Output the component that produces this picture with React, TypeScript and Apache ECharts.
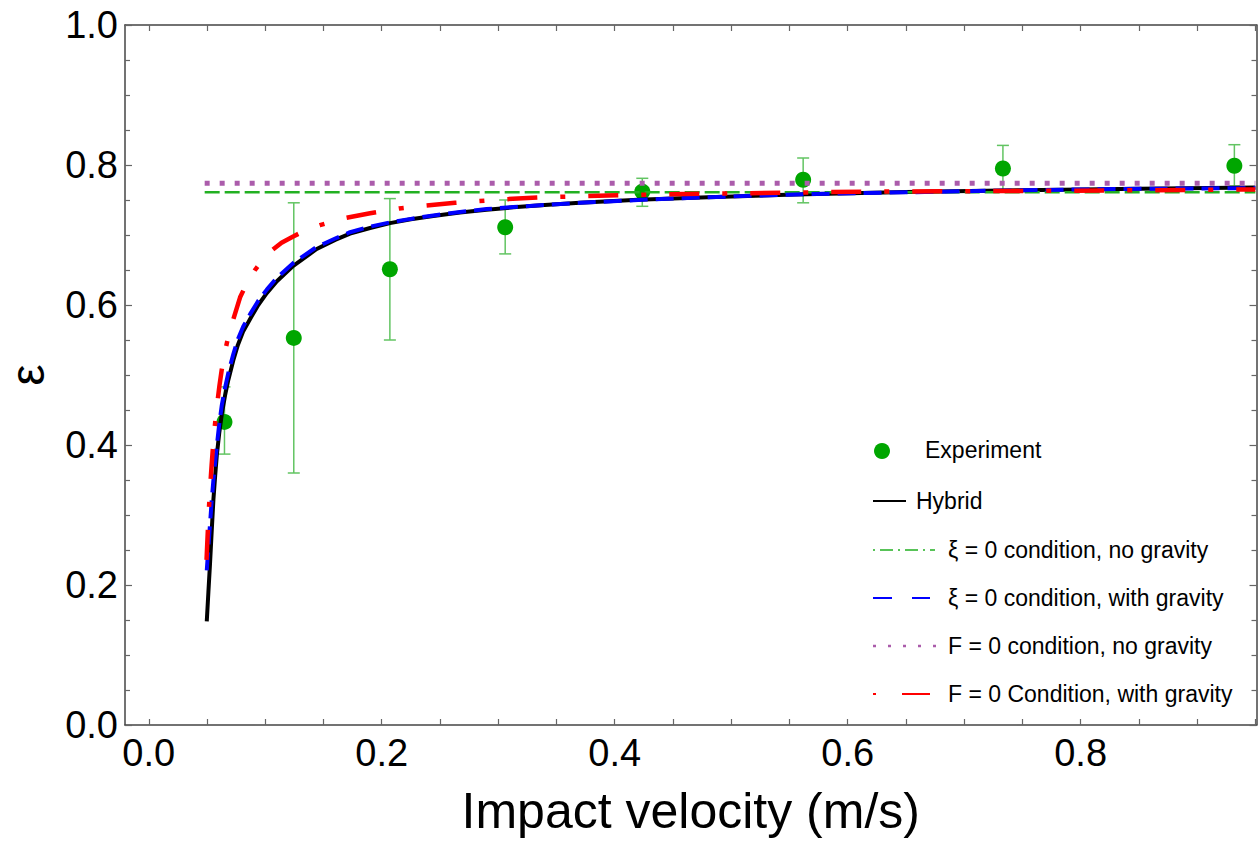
import React, { useEffect, useRef } from "react";
import * as echarts from "echarts";

// ---------- data ----------
const X_MIN = -0.0204;
const X_MAX = 0.951;
const X_TICKS = [0, 0.05, 0.1, 0.15, 0.2, 0.25, 0.3, 0.35, 0.4, 0.45, 0.5, 0.55, 0.6, 0.65, 0.7, 0.75, 0.8, 0.85, 0.9, 0.95];
const X_LABELS = [0, 0.2, 0.4, 0.6, 0.8];
const Y_MIN = 0;
const Y_MAX = 1;

// Experiment: [velocity, epsilon, lower, upper]
const experiment = [
  [0.065, 0.433, 0.387, 0.483],
  [0.1245, 0.553, 0.36, 0.746],
  [0.207, 0.651, 0.55, 0.752],
  [0.306, 0.711, 0.673, 0.75],
  [0.4237, 0.762, 0.741, 0.781],
  [0.5618, 0.779, 0.746, 0.81],
  [0.7333, 0.795, 0.763, 0.828],
  [0.932, 0.799, 0.77, 0.829],
];

const hybrid = [
  [0.0498, 0.148], [0.0512, 0.19], [0.0526, 0.231], [0.054, 0.276], [0.0555, 0.322],
  [0.057, 0.356], [0.0584, 0.385], [0.0605, 0.417], [0.0627, 0.444], [0.0655, 0.471],
  [0.0683, 0.493], [0.0726, 0.521], [0.0765, 0.543], [0.081, 0.562], [0.087, 0.58],
  [0.094, 0.6], [0.1013, 0.617], [0.11, 0.634], [0.1241, 0.656], [0.1442, 0.68],
  [0.16, 0.693], [0.1728, 0.702], [0.19, 0.71], [0.2071, 0.717], [0.225, 0.7225],
  [0.2443, 0.727], [0.2672, 0.732], [0.29, 0.736], [0.313, 0.7395], [0.34, 0.743],
  [0.37, 0.746], [0.42, 0.7505], [0.48, 0.754], [0.555, 0.758], [0.65, 0.7615],
  [0.75, 0.764], [0.85, 0.766], [0.95, 0.768],
];

const xiNoGravity = [[0.048, 0.761], [0.95, 0.761]];

const xiWithGravity = [
  [0.0498, 0.221], [0.051, 0.25], [0.0525, 0.285], [0.054, 0.32], [0.0555, 0.35],
  [0.057, 0.375], [0.0585, 0.4], [0.0605, 0.43], [0.0627, 0.457], [0.0655, 0.482],
  [0.0683, 0.503], [0.0726, 0.53], [0.0765, 0.551], [0.081, 0.569], [0.087, 0.587],
  [0.094, 0.606], [0.1013, 0.622], [0.11, 0.639], [0.1241, 0.66], [0.1442, 0.683],
  [0.16, 0.695], [0.1728, 0.704], [0.19, 0.712], [0.2071, 0.718], [0.225, 0.723],
  [0.2443, 0.728], [0.2672, 0.733], [0.29, 0.737], [0.313, 0.74], [0.34, 0.743],
  [0.37, 0.746], [0.42, 0.75], [0.48, 0.754], [0.555, 0.758], [0.65, 0.761],
  [0.75, 0.764], [0.85, 0.766], [0.95, 0.767],
];

const fNoGravity = [[0.048, 0.774], [0.95, 0.774]];

const fWithGravity = [
  [0.0496, 0.236], [0.0505, 0.27], [0.0515, 0.305], [0.0527, 0.34], [0.054, 0.372],
  [0.0555, 0.405], [0.057, 0.432], [0.0587, 0.458], [0.0607, 0.485], [0.0627, 0.508],
  [0.065, 0.53], [0.0675, 0.549], [0.0712, 0.572], [0.0784, 0.611], [0.085, 0.634],
  [0.0912, 0.65], [0.098, 0.665], [0.105, 0.677], [0.114, 0.689], [0.124, 0.698],
  [0.135, 0.707], [0.147, 0.714], [0.168, 0.724], [0.19, 0.731], [0.215, 0.738],
  [0.237, 0.742], [0.263, 0.746], [0.305, 0.751], [0.34, 0.754], [0.41, 0.757],
  [0.48, 0.759], [0.62, 0.762], [0.76, 0.763], [0.95, 0.765],
];

const LEGEND_LABELS = [
  "Experiment",
  "Hybrid",
  "\u03BE = 0 condition, no gravity",
  "\u03BE = 0 condition, with gravity",
  "F = 0 condition, no gravity",
  "F = 0 Condition, with gravity",
];

// ---------- styles ----------
const FONT = "'Liberation Sans', Arial, sans-serif";
const C_EXP = "#00a600";
const C_ERR = "#62c462";
const C_HYB = "#000000";
const C_XI0 = "#22b022";
const C_XIG = "#0000ff";
const C_F0 = "#ab5cab";
const C_FG = "#ff0000";
const AXIS_COLOR = "#444";
const TICK_COLOR = "#666";

export default function App() {
  const ref = useRef<HTMLDivElement>(null);

  useEffect(() => {
    if (!ref.current) return;
    const chart = echarts.init(ref.current, undefined, { renderer: "svg" });

    const xAxisBase = {
      type: "value",
      min: X_MIN,
      max: X_MAX,
      splitLine: { show: false },
      axisLine: { show: true, onZero: false, lineStyle: { color: AXIS_COLOR, width: 1.5 } },
      axisTick: {
        show: true,
        inside: true,
        length: 6,
        customValues: X_TICKS,
        lineStyle: { color: TICK_COLOR, width: 1.2 },
      },
    };
    const yAxisBase = {
      type: "value",
      min: Y_MIN,
      max: Y_MAX,
      interval: 0.2,
      splitLine: { show: false },
      axisLine: { show: true, onZero: false, lineStyle: { color: AXIS_COLOR, width: 1.5 } },
      axisTick: { show: true, inside: true, length: 7, lineStyle: { color: TICK_COLOR, width: 1.2 } },
      minorTick: { show: true, splitNumber: 4, length: 5, lineStyle: { color: TICK_COLOR, width: 1.2 } },
      minorSplitLine: { show: false },
    };

    const legendX = 873;
    const rows = [450, 501, 550, 598, 646, 694];
    const legText = (t: string, x: number, y: number) => ({
      type: "text",
      x,
      y,
      style: { text: t, fill: "#000", font: `23px ${FONT}`, textVerticalAlign: "middle", verticalAlign: "middle" },
      z: 100,
    });
    const legLine = (y: number, x2: number, stroke: string, lineWidth: number, lineDash?: number[]) => ({
      type: "line",
      shape: { x1: legendX, y1: y, x2, y2: y },
      style: { stroke, lineWidth, lineDash },
      z: 100,
    });

    const graphic = [
      { type: "circle", shape: { cx: 882, cy: rows[0] + 1, r: 8 }, style: { fill: C_EXP }, z: 100 },
      legText(LEGEND_LABELS[0], 925, rows[0]),
      legLine(rows[1], 906, C_HYB, 2),
      legText(LEGEND_LABELS[1], 916, rows[1]),
      legLine(rows[2], 935, C_XI0, 1.5, [2, 5, 13, 5]),
      legText(LEGEND_LABELS[2], 948, rows[2]),
      legLine(rows[3], 930, C_XIG, 2, [19, 20]),
      legText(LEGEND_LABELS[3], 948, rows[3]),
      legLine(rows[4], 937, C_F0, 2.5, [3, 12]),
      legText(LEGEND_LABELS[4], 948, rows[4]),
      legLine(rows[5], 930, C_FG, 2, [3, 26, 28, 100]),
      legText(LEGEND_LABELS[5], 948, rows[5]),
    ];

    const lineSeries = (name: string, data: number[][], color: string, width: number, type: any, z: number) => ({
      name,
      type: "line",
      z,
      showSymbol: false,
      symbol: "none",
      smooth: false,
      lineStyle: { color, width, type },
      data,
    });

    const option = {
      animation: false,
      backgroundColor: "#ffffff",
      textStyle: { fontFamily: FONT },
      grid: {
        left: 125,
        right: 1.5,
        top: 25,
        bottom: 120,
        containLabel: false,
        outerBoundsMode: "none",
      },
      xAxis: [
        {
          ...xAxisBase,
          position: "bottom",
          name: "Impact velocity (m/s)",
          nameLocation: "middle",
          nameGap: 61,
          nameTextStyle: { fontSize: 50, color: "#000", fontFamily: FONT },
          axisLabel: {
            show: true,
            customValues: X_LABELS,
            fontSize: 38,
            color: "#000",
            margin: 9,
            fontFamily: FONT,
            formatter: (v: number) => v.toFixed(1),
          },
        },
        {
          ...xAxisBase,
          position: "top",
          axisLabel: { show: false },
        },
      ],
      yAxis: [
        {
          ...yAxisBase,
          position: "left",
          name: "\u03B5",
          nameLocation: "middle",
          nameRotate: 90,
          nameGap: 74,
          nameTextStyle: { fontSize: 48, color: "#000", fontFamily: FONT },
          axisLabel: {
            show: true,
            fontSize: 38,
            color: "#000",
            margin: 7,
            fontFamily: FONT,
            formatter: (v: number) => v.toFixed(1),
          },
        },
        {
          ...yAxisBase,
          position: "right",
          axisLabel: { show: false },
        },
      ],
      graphic,
      series: [
        {
          name: "Experiment error",
          type: "custom",
          xAxisIndex: 0,
          yAxisIndex: 0,
          z: 1,
          encode: { x: 0, y: [1, 2, 3] },
          data: experiment,
          renderItem: (_params: any, api: any) => {
            const x = api.value(0);
            const lo = api.coord([x, api.value(2)]);
            const hi = api.coord([x, api.value(3)]);
            const cap = 6;
            const st = { stroke: C_ERR, lineWidth: 1.5 };
            return {
              type: "group",
              children: [
                { type: "line", shape: { x1: lo[0], y1: lo[1], x2: hi[0], y2: hi[1] }, style: st },
                { type: "line", shape: { x1: lo[0] - cap, y1: lo[1], x2: lo[0] + cap, y2: lo[1] }, style: st },
                { type: "line", shape: { x1: hi[0] - cap, y1: hi[1], x2: hi[0] + cap, y2: hi[1] }, style: st },
              ],
            };
          },
        },
        {
          name: LEGEND_LABELS[0],
          type: "scatter",
          z: 2,
          symbol: "circle",
          symbolSize: 16,
          itemStyle: { color: C_EXP, opacity: 1 },
          data: experiment.map((d) => [d[0], d[1]]),
        },
        lineSeries(LEGEND_LABELS[1], hybrid, C_HYB, 4, "solid", 3),
        lineSeries(LEGEND_LABELS[2], xiNoGravity, C_XI0, 2.6, [15, 5], 3),
        lineSeries(LEGEND_LABELS[4], fNoGravity, C_F0, 5, [5, 10], 3),
        lineSeries(LEGEND_LABELS[3], xiWithGravity, C_XIG, 4, [18, 8], 4),
        lineSeries(LEGEND_LABELS[5], fWithGravity, C_FG, 4.5, [30, 23, 5, 23], 5),
      ],
    };

    chart.setOption(option as any);
    return () => chart.dispose();
  }, []);

  return (
    <div
      ref={ref}
      style={{ position: "absolute", left: 0, top: 0, width: 1258, height: 845, background: "#fff" }}
    />
  );
}
